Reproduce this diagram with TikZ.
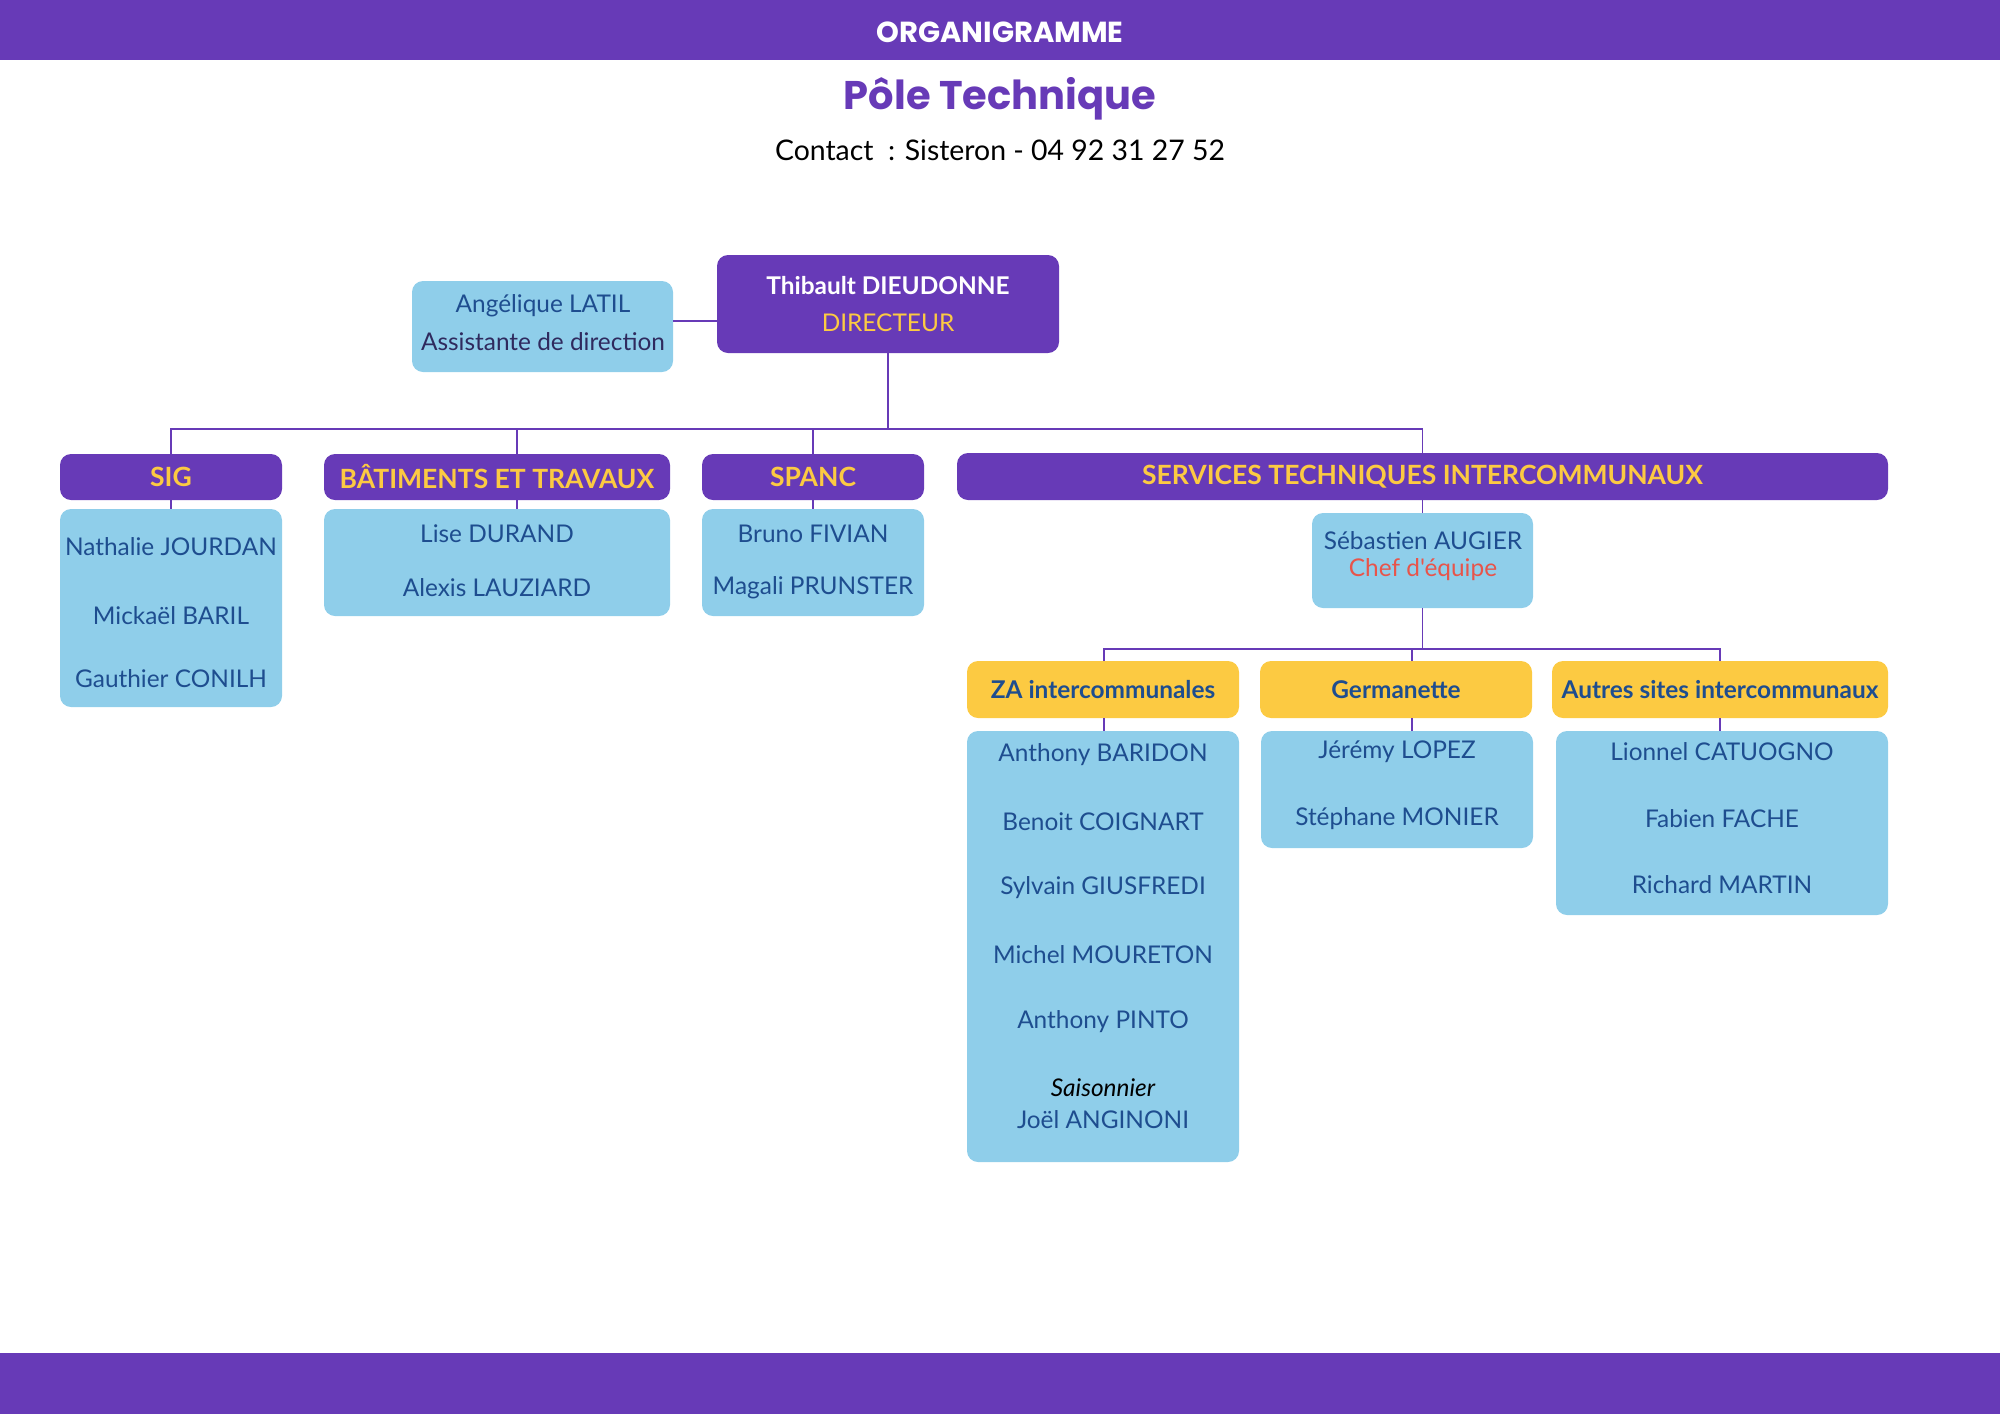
\documentclass[tikz,border=0pt]{standalone}
\usepackage{fontspec}
\setmainfont{Lato}[Ligatures=TeXOff]
\newfontfamily\popp{Poppins}
\definecolor{purp}{HTML}{673AB7}
\definecolor{lblue}{HTML}{8FCEEA}
\definecolor{yell}{HTML}{FCCA42}
\definecolor{navy}{HTML}{1E4D8F}
\definecolor{redc}{HTML}{E8544A}
\definecolor{dpurp}{HTML}{2F2A5E}
\begin{document}
\begin{tikzpicture}[x=1pt,y=-1pt,
  bx/.style={rounded corners=11pt, inner sep=0pt, outer sep=0pt},
  pbox/.style={bx, fill=purp},
  bbox/.style={bx, fill=lblue},
  ybox/.style={bx, fill=yell},
  hdr/.style={font=\fontsize{26.5}{31}\selectfont\bfseries, text=yell},
  hdr3/.style={font=\fontsize{24.4}{29}\selectfont\bfseries, text=navy},
  nm/.style={font=\fontsize{24.4}{29}\selectfont, text=navy, inner sep=0pt},
  link/.style={draw=purp, line width=1.6pt}
]
\useasboundingbox (0,0) rectangle (2000,1414);
% bars
\fill[purp] (0,0) rectangle (2000,60);
\fill[purp] (0,1353) rectangle (2000,1414);
\node[font=\popp\fontsize{29}{34}\selectfont\bfseries, text=white] (t0) at (1000,32) {ORGANIGRAMME};
\node[font=\popp\fontsize{40}{48}\selectfont\bfseries, text=purp] (t1) at (1000,99) {Pôle Technique};
\node[font=\fontsize{28.4}{34}\selectfont, text=black] (t2) at (1000,150) {Contact~ : Sisteron - 04 92 31 27 52};

% director & assistant
\node[pbox, minimum width=342pt, minimum height=98pt] (dir) at (888,304) {};
\node[font=\fontsize{24.4}{29}\selectfont\bfseries, text=white] (dirn) at (888,286) {Thibault DIEUDONNE};
\node[font=\fontsize{24.4}{29}\selectfont, text=yell] (dirt) at (888,323) {DIRECTEUR};
\node[bbox, minimum width=261pt, minimum height=91pt] (asst) at (542.5,326.5) {};
\node[nm] (asn) at (543,306) {Angélique LATIL};
\node[nm, text=dpurp] (ast) at (543,342) {Assistante de direction};
\draw[link] ([yshift=5.5pt]asst.east) -- ([yshift=5.5pt]asst.east -| dir.west);

% level 1 headers
\node[pbox, minimum width=222pt, minimum height=46pt] (sig) at (171,477) {};
\node[hdr] at (sig) {SIG};
\node[pbox, minimum width=346pt, minimum height=46pt] (bat) at (497,477) {};
\node[hdr] at (bat) {BÂTIMENTS ET TRAVAUX};
\node[pbox, minimum width=222pt, minimum height=46pt] (spanc) at (813,477) {};
\node[hdr] at (spanc) {SPANC};
\node[pbox, minimum width=931pt, minimum height=47pt] (sti) at (1422.5,476.5) {};
\node[hdr] at (sti) {SERVICES TECHNIQUES INTERCOMMUNAUX};

% bus level 1
\coordinate (bus) at (888,429);
\draw[link] (dir.south) -- (bus);
\draw[link] (sig.north) -- (sig.north |- bus) -- (sti.north |- bus) -- (sti.north);
\draw[link] ([xshift=20pt]bat.north) -- ([xshift=20pt]bat.north |- bus);
\draw[link] (spanc.north) -- (spanc.north |- bus);

% bodies level 1
\node[bbox, minimum width=222pt, minimum height=198pt] (sigb) at (171,608) {};
\node[nm] at (171,547) {Nathalie JOURDAN};
\node[nm] at (171,616) {Mickaël BARIL};
\node[nm] at (171,679) {Gauthier CONILH};
\draw[link] (sig.south) -- (sigb.north);

\node[bbox, minimum width=346pt, minimum height=107pt] (batb) at (497,562.5) {};
\node[nm] at (497,534) {Lise DURAND};
\node[nm] at (497,588) {Alexis LAUZIARD};
\draw[link] ([xshift=20pt]bat.south) -- ([xshift=20pt]batb.north);

\node[bbox, minimum width=222pt, minimum height=107pt] (spancb) at (813,562.5) {};
\node[nm] at (813,534) {Bruno FIVIAN};
\node[nm] at (813,588) {Magali PRUNSTER};
\draw[link] (spanc.south) -- (spancb.north);

% chef d'equipe
\node[bbox, minimum width=221pt, minimum height=95pt] (seb) at (1422.5,560.5) {};
\node[nm] at (1423,541) {Sébastien AUGIER};
\node[nm, text=redc] at (1423,570) {Chef d'équipe};
\draw[link] (sti.south) -- (seb.north);

% level 3 headers
\node[ybox, minimum width=272pt, minimum height=57pt] (za) at (1103,689.5) {};
\node[hdr3] at (za) {ZA intercommunales};
\node[ybox, minimum width=272pt, minimum height=57pt] (germ) at (1396,689.5) {};
\node[hdr3] at (germ) {Germanette};
\node[ybox, minimum width=336pt, minimum height=57pt] (aut) at (1720,689.5) {};
\node[hdr3] at (aut) {Autres sites intercommunaux};

\coordinate (bus2) at (1422.5,649);
\draw[link] (seb.south) -- (bus2);
\draw[link] ([xshift=1pt]za.north) -- ([xshift=1pt]za.north |- bus2) -- (aut.north |- bus2) -- (aut.north);
\draw[link] ([xshift=16pt]germ.north) -- ([xshift=16pt]germ.north |- bus2);

% level 3 bodies
\node[bbox, minimum width=272pt, minimum height=431pt] (zab) at (1103,946.5) {};
\node[nm] at (1103,755) {Anthony BARIDON};
\node[nm] at (1103,822) {Benoit COIGNART};
\node[nm] at (1103,888) {Sylvain GIUSFREDI};
\node[nm] at (1103,955) {Michel MOURETON};
\node[nm] at (1103,1022) {Anthony PINTO};
\node[nm, text=black, font=\fontsize{24.4}{29}\selectfont\itshape] at (1103,1088) {Saisonnier};
\node[nm] at (1103,1120) {Joël ANGINONI};
\draw[link] ([xshift=1pt]za.south) -- ([xshift=1pt]za.south |- zab.north);

\node[bbox, minimum width=272pt, minimum height=117pt] (germb) at (1397,789.5) {};
\node[nm] at (1397,752) {Jérémy LOPEZ};
\node[nm] at (1397,819) {Stéphane MONIER};
\draw[link] ([xshift=16pt]germ.south) -- ([xshift=16pt]germ.south |- germb.north);

\node[bbox, minimum width=332pt, minimum height=184pt] (autb) at (1722,823) {};
\node[nm] at (1722,752) {Lionnel CATUOGNO};
\node[nm] at (1722,819) {Fabien FACHE};
\node[nm] at (1722,885) {Richard MARTIN};
\draw[link] (aut.south) -- (aut.south |- autb.north);
\end{tikzpicture}
\end{document}
